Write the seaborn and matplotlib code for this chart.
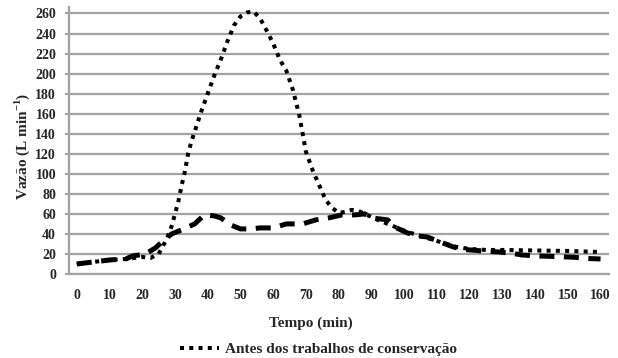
import numpy as np
import pandas as pd
import matplotlib
matplotlib.use("Agg")
import matplotlib.pyplot as plt
import seaborn as sns

# ---- data ----
t_antes = [0, 5, 10, 15, 20, 22.5, 25, 27.5, 29, 30, 31, 32, 33, 34, 35, 36, 37, 38, 40, 42,
           44, 46, 48, 50, 52, 54, 56, 58, 60, 62, 64, 66, 68, 70, 72, 74, 76, 78, 80, 82,
           84, 86, 88, 90, 92, 95, 98, 101, 104, 107, 110, 113, 116, 120, 125, 130, 140, 150, 160]
v_antes = [10, 12, 14, 15, 17, 16, 20, 35, 48, 60, 72, 88, 102, 120, 132, 142, 152, 162, 180, 198,
           214, 232, 248, 257, 261, 262, 255, 243, 230, 214, 203, 184, 158, 122, 104, 89, 74, 66, 61, 62,
           64, 63, 60, 57, 54, 50, 46, 42, 39, 36, 33, 30, 27, 25, 24, 24, 23.5, 23, 22]

t_depois = [0, 5, 10, 15, 17, 21, 24, 27, 29, 32, 36, 39, 42, 44, 47, 50, 53, 56, 60, 64,
            69, 73, 77, 81, 85, 88, 90, 95, 97, 101, 104, 107, 111, 115, 118, 124, 129, 133, 136, 141,
            146, 152, 156, 160]
v_depois = [10, 12, 14, 15, 18, 20, 26, 35, 40, 44, 50, 59, 58, 56, 49, 45, 45, 46, 46, 50,
            50, 54, 56, 59, 59, 60, 56, 54, 47, 41, 38, 37, 32, 27, 24.6, 23, 22, 20.6, 19, 18,
            17.5, 16.7, 15.5, 15]

label_antes = "Antes dos trabalhos de conservação"
label_depois = "Depois dos trabalhos de conservação"
x_ticks = list(range(0, 161, 10))
y_ticks = list(range(0, 261, 20))
x_label = "Tempo (min)"
y_label = "Vazão (L min$^{\\mathbf{-1}}$)"

# ---- style ----
sns.set_theme(style="white")
plt.rcParams["font.family"] = ["Liberation Serif", "DejaVu Serif"]
plt.rcParams["font.weight"] = "bold"
plt.rcParams["mathtext.fontset"] = "custom"
plt.rcParams["mathtext.rm"] = "Liberation Serif:bold"
plt.rcParams["mathtext.bf"] = "Liberation Serif:bold"

GRID = "#a3a3a3"

fig = plt.figure(figsize=(6.18, 3.58), dpi=100)
ax = fig.add_axes([0.111, 0.2346, 0.874, 0.746])

df_a = pd.DataFrame({"t": t_antes, "v": v_antes})
df_d = pd.DataFrame({"t": t_depois, "v": v_depois})

sns.lineplot(data=df_a, x="t", y="v", ax=ax, color="black", lw=2.9,
             estimator=None, sort=False, label=label_antes)
line_a = ax.lines[-1]
line_a.set_linestyle((0, (1, 1.3)))
line_a.set_dash_capstyle("butt")

sns.lineplot(data=df_d, x="t", y="v", ax=ax, color="black", lw=3.6,
             estimator=None, sort=False, label=label_depois)
line_d = ax.lines[-1]
line_d.set_linestyle((0, (3, 1.9)))
line_d.set_dash_capstyle("butt")

for ln in (line_a, line_d):
    ln.set_zorder(3)

ax.set_xlim(-2.5, 162.5)
ax.set_ylim(0, 266.5)

ax.set_yticks(y_ticks)
ax.set_xticks(x_ticks)
ax.set_xticks(np.arange(-2.5, 163, 5), minor=True)
ax.tick_params(axis="x", which="major", length=0, pad=11, labelsize=10)
ax.tick_params(axis="x", which="minor", length=3, width=1.2, color=GRID, direction="out")
ax.tick_params(axis="y", which="major", length=3, width=1.5, color=GRID, direction="out",
               pad=6, labelsize=10, left=True)
for lab in ax.get_xticklabels() + ax.get_yticklabels():
    lab.set_fontweight("bold")

ax.grid(axis="y", color=GRID, lw=1.6)
ax.grid(axis="x", visible=False)
ax.set_axisbelow(True)

for s in ["top", "right"]:
    ax.spines[s].set_visible(False)
for s in ["left", "bottom"]:
    ax.spines[s].set_color(GRID)
    ax.spines[s].set_linewidth(1.6)

ax.set_xlabel("")
ax.set_ylabel("")
fig.text(0.503, 1 - 323 / 358, x_label, ha="center", va="center", fontsize=11, fontweight="bold")
fig.text(0.036, 1 - 146 / 358, y_label, ha="center", va="center", rotation=90,
         fontsize=11, fontweight="bold")

ax.legend_.remove() if ax.legend_ else None
fig.legend(handles=[line_a], labels=[label_antes], loc="center",
           bbox_to_anchor=(0.515, 1 - 349 / 358), frameon=False, fontsize=11,
           handlelength=2.6, handletextpad=0.35, prop={"weight": "bold", "size": 11})

fig.savefig("out.png", dpi=100, facecolor="white")
